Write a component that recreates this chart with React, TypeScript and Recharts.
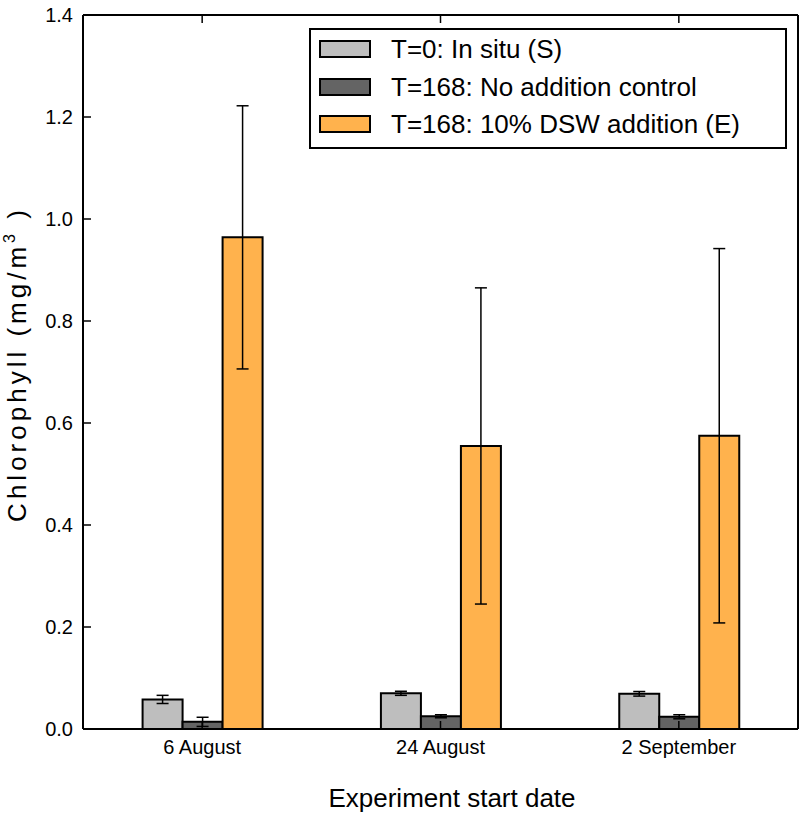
import { BarChart, Bar, XAxis, YAxis, ErrorBar, Legend, Label } from "recharts";

const DATES = ["6 August", "24 August", "2 September"];
const IN_SITU = [0.058, 0.07, 0.069];
const IN_SITU_ERR = [0.008, 0.004, 0.0045];
const CONTROL = [0.014, 0.025, 0.024];
const CONTROL_ERR = [0.009, 0.003, 0.004];
const DSW = [0.964, 0.555, 0.575];
const DSW_ERR = [0.258, 0.31, 0.367];
const Y_TICKS = [0, 0.2, 0.4, 0.6, 0.8, 1.0, 1.2, 1.4];

const SERIES = [
  { key: "inSitu", err: "inSituErr", name: "T=0: In situ (S)", color: "#bebebe" },
  { key: "control", err: "controlErr", name: "T=168: No addition control", color: "#646464" },
  { key: "dsw", err: "dswErr", name: "T=168: 10% DSW addition (E)", color: "#ffb24d" },
];

const data = DATES.map((date, i) => ({
  date,
  inSitu: IN_SITU[i],
  inSituErr: IN_SITU_ERR[i],
  control: CONTROL[i],
  controlErr: CONTROL_ERR[i],
  dsw: DSW[i],
  dswErr: DSW_ERR[i],
}));

const FONT = "'Liberation Sans', Arial, Helvetica, sans-serif";
const W = 802;
const H = 815;
const LEFT = 83;
const RIGHT = 798;
const TOP = 15;
const BOTTOM = 729;
const TICK = 8;
const AXIS = { stroke: "#000", strokeWidth: 2 };

function LeftTick({ y, payload }: any) {
  return (
    <g>
      <line x1={LEFT} x2={LEFT + TICK} y1={y} y2={y} stroke="#000" strokeWidth={1.5} />
      <text x={LEFT - 10} y={y + 7} textAnchor="end" fontSize={20} fontFamily={FONT} fill="#000">
        {Number(payload.value).toFixed(1)}
      </text>
    </g>
  );
}

function RightTick({ y }: any) {
  return <line x1={RIGHT} x2={RIGHT - TICK} y1={y} y2={y} stroke="#000" strokeWidth={1.5} />;
}

function BottomTick({ x, payload }: any) {
  return (
    <g>
      <line x1={x} x2={x} y1={BOTTOM} y2={BOTTOM - TICK} stroke="#000" strokeWidth={1.5} />
      <text x={x} y={754} textAnchor="middle" fontSize={20} fontFamily={FONT} fill="#000">
        {payload.value}
      </text>
    </g>
  );
}

function TopTick({ x }: any) {
  return <line x1={x} x2={x} y1={TOP} y2={TOP + TICK} stroke="#000" strokeWidth={1.5} />;
}

function LegendBox() {
  return (
    <div
      style={{
        position: "relative",
        width: 478,
        height: 121,
        boxSizing: "border-box",
        border: "2px solid #000",
        background: "#fff",
        fontFamily: FONT,
        fontSize: 26,
        color: "#000",
      }}
    >
      {SERIES.map((s, i) => (
        <div key={s.key}>
          <div
            style={{
              position: "absolute",
              left: 8,
              top: 10 + i * 37.5,
              width: 52,
              height: 18,
              boxSizing: "border-box",
              background: s.color,
              border: "2px solid #000",
            }}
          />
          <div
            style={{
              position: "absolute",
              left: 80,
              top: 19 + i * 37.5 - 15,
              lineHeight: "30px",
              whiteSpace: "nowrap",
            }}
          >
            {s.name}
          </div>
        </div>
      ))}
    </div>
  );
}

export default function App() {
  return (
    <div style={{ position: "absolute", left: 0, top: 0, width: W, height: H, background: "#fff" }}>
      <BarChart
        width={W}
        height={H}
        data={data}
        margin={{ top: TOP - 1, right: W - RIGHT - 1, bottom: 0, left: 0 }}
        barCategoryGap="25%"
        barGap={0}
      >
        <XAxis
          dataKey="date"
          height={H - BOTTOM}
          axisLine={AXIS}
          tickLine={false}
          tick={(p: any) => <BottomTick {...p} />}
          interval={0}
        >
          <Label
            content={() => (
              <text x={452} y={807} textAnchor="middle" fontSize={26} fontFamily={FONT} fill="#000">
                Experiment start date
              </text>
            )}
          />
        </XAxis>
        <XAxis
          xAxisId="top"
          dataKey="date"
          orientation="top"
          height={1}
          axisLine={AXIS}
          tickLine={false}
          tick={(p: any) => <TopTick {...p} />}
          interval={0}
        />
        <YAxis
          width={LEFT}
          domain={[0, 1.4]}
          ticks={Y_TICKS}
          axisLine={AXIS}
          tickLine={false}
          tick={(p: any) => <LeftTick {...p} />}
          interval={0}
        >
          <Label
            content={() => (
              <text
                transform={`translate(26, ${(TOP + BOTTOM) / 2 - 8}) rotate(-90)`}
                textAnchor="middle"
                fontSize={26}
                fontFamily={FONT}
                letterSpacing={4}
                fill="#000"
              >
                Chlorophyll (mg/m
                <tspan dy={-11} fontSize={16}>3</tspan>
                <tspan dy={11}> )</tspan>
              </text>
            )}
          />
        </YAxis>
        <YAxis
          yAxisId="right"
          orientation="right"
          width={1}
          domain={[0, 1.4]}
          ticks={Y_TICKS}
          axisLine={AXIS}
          tickLine={false}
          tick={(p: any) => <RightTick {...p} />}
          interval={0}
        />
        {SERIES.map((s) => (
          <Bar
            key={s.key}
            dataKey={s.key}
            name={s.name}
            fill={s.color}
            stroke="#000"
            strokeWidth={2}
            isAnimationActive={false}
          >
            <ErrorBar dataKey={s.err} width={6} stroke="#000" strokeWidth={1.5} direction="y" />
          </Bar>
        ))}
        <Legend
          layout="vertical"
          align="center"
          verticalAlign="middle"
          wrapperStyle={{ left: 309, top: 28, width: 478, height: 121 }}
          content={() => <LegendBox />}
        />
      </BarChart>
    </div>
  );
}
